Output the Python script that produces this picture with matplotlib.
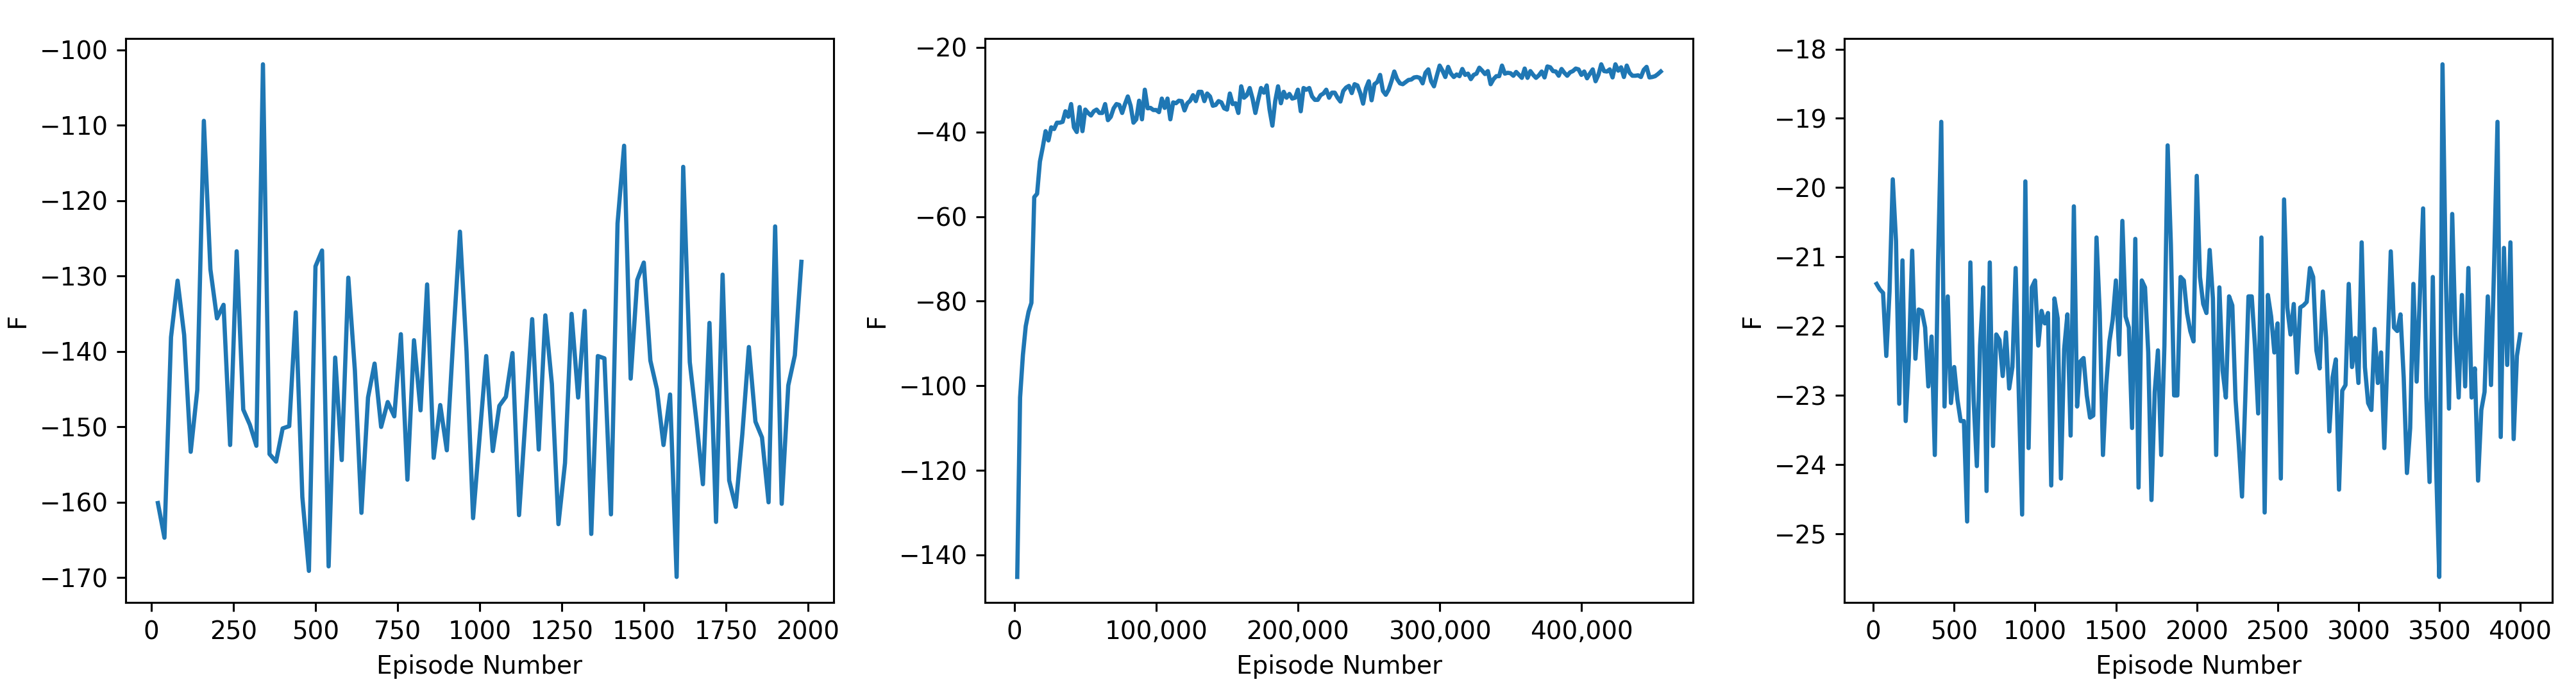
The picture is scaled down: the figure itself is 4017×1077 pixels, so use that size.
import numpy as np
import matplotlib
matplotlib.use('Agg')
import matplotlib.pyplot as plt
from matplotlib.ticker import StrMethodFormatter

# Run 1: every 20 episodes up to 2000
episodes_1 = np.arange(20, 2000, 20)
f_1 = [
    -160.1, -164.7, -138.1, -130.6, -137.8, -153.3, -145.1, -109.4, -129.1, -135.6,
    -133.8, -152.4, -126.7, -147.7, -149.7, -152.5, -101.9, -153.6, -154.6, -150.2,
    -149.9, -134.8, -159.3, -169.1, -128.7, -126.6, -168.5, -140.8, -154.4, -130.2,
    -142.5, -161.4, -146.1, -141.6, -150.0, -146.7, -148.6, -137.7, -157.0, -138.5,
    -147.8, -131.1, -154.1, -147.1, -153.1, -138.0, -124.1, -140.0, -162.1, -151.3,
    -140.6, -153.2, -147.2, -146.0, -140.2, -161.7, -148.6, -135.7, -153.0, -135.2,
    -144.3, -162.9, -154.8, -135.0, -146.1, -134.6, -164.2, -140.6, -140.9, -161.6,
    -123.0, -112.7, -143.6, -130.5, -128.2, -141.2, -145.0, -152.4, -145.7, -169.9,
    -115.5, -141.4, -149.1, -157.6, -136.2, -162.6, -129.8, -157.1, -160.6, -151.0,
    -139.4, -149.3, -151.4, -160.0, -123.4, -160.2, -144.5, -140.5, -128.1,
]

# Run 2: every 2000 episodes up to 456,000
f_2 = [
    -145.2, -102.8, -92.7, -85.9, -82.5, -80.4, -55.4, -54.6, -47.0, -43.6,
    -39.8, -42.0, -38.9, -39.3, -37.8, -37.8, -37.6, -35.1, -36.4, -33.4,
    -38.9, -40.0, -34.1, -39.8, -34.7, -35.5, -36.1, -35.1, -34.7, -35.5,
    -35.5, -33.4, -37.2, -36.4, -34.4, -33.4, -33.6, -35.5, -33.4, -31.6,
    -33.8, -37.8, -37.0, -32.6, -37.0, -30.0, -34.4, -34.3, -34.8, -34.8,
    -35.3, -32.1, -34.3, -32.1, -37.0, -33.0, -33.2, -32.6, -32.7, -34.9,
    -33.2, -32.6, -31.3, -32.7, -30.5, -30.5, -32.7, -30.9, -31.6, -33.8,
    -33.6, -32.7, -33.0, -34.4, -34.7, -30.9, -33.4, -33.2, -35.5, -29.2,
    -31.9, -31.3, -29.6, -32.1, -35.5, -32.4, -29.6, -30.7, -29.0, -34.7,
    -38.5, -32.7, -29.2, -33.2, -30.5, -31.9, -31.0, -32.1, -31.9, -30.0,
    -35.1, -29.6, -30.0, -29.6, -31.6, -32.4, -32.4, -31.3, -30.9, -30.0,
    -31.9, -30.7, -30.7, -31.9,
    -32.8, -30.3, -29.5, -29.1, -30.8, -28.7, -29.0, -30.8, -33.3, -29.7,
    -28.0, -32.5, -28.7, -28.2, -26.5, -30.3, -31.2, -30.0, -28.0, -25.7,
    -27.5, -28.5, -28.7, -28.2, -27.7, -27.6, -27.1, -27.0, -27.2, -28.5,
    -26.0, -25.2, -28.0, -29.2, -26.7, -24.3, -25.5, -27.0, -24.6, -26.2,
    -27.0, -26.4, -26.8, -25.1, -26.5, -26.2, -27.5, -26.5, -26.2, -24.8,
    -25.5, -26.3, -25.6, -28.7, -27.5, -26.8, -26.8, -24.3, -26.2, -26.0,
    -26.1, -26.7, -25.8, -26.5, -27.2, -25.0, -27.2, -25.6, -26.5, -27.2,
    -26.6, -25.7, -27.1, -24.5, -24.7, -25.6, -25.7, -26.7, -25.1, -26.0,
    -26.7, -25.9, -25.6, -25.0, -25.2, -26.5, -25.7, -27.3, -26.2, -25.2,
    -28.0, -26.5, -24.0, -25.6, -25.7, -25.2, -27.1, -24.0, -25.5, -24.7,
    -27.0, -24.3, -26.0, -26.7, -26.7, -26.6, -27.0, -25.3, -24.6, -27.1,
    -27.0, -26.8, -26.3, -25.7,
]
episodes_2 = np.arange(1, len(f_2) + 1) * 2000

# Run 3: every 20 episodes up to 4000
episodes_3 = np.arange(20, 4001, 20)
f_3 = [
    -21.39, -21.47, -21.52, -22.43, -21.50, -19.88, -20.77, -23.12, -21.05,
    -23.37, -22.43, -20.91, -22.47, -21.76, -21.78, -22.02, -22.87, -22.15, -23.86,
    -21.08, -19.05, -23.16, -21.57, -23.11, -22.59, -23.06, -23.37, -23.37, -24.82,
    -21.08, -23.06, -24.02, -22.28, -21.44, -24.38, -21.08, -23.73, -22.12, -22.20,
    -22.72, -22.09, -22.90, -22.59, -21.16, -23.03, -24.72, -19.91, -23.76, -21.44,
    -21.34, -22.28, -21.78, -21.96, -21.81, -24.30, -21.60, -21.89, -24.20, -22.33,
    -21.83, -23.58, -20.27, -23.16, -22.51,
    -22.46, -23.00, -23.32, -23.29, -20.72, -21.81, -23.86, -22.85, -22.22, -21.91,
    -21.34, -22.41, -20.48, -21.86, -22.02, -23.47, -20.74, -24.33, -21.34, -21.44,
    -22.38, -24.51, -22.95, -22.35, -23.86, -22.28, -19.39, -20.82, -23.00, -23.00,
    -21.29, -21.34, -21.81, -22.07, -22.22, -19.83, -21.29, -21.68, -21.81, -20.90,
    -21.60, -23.86, -21.44, -22.64, -23.03, -21.57, -21.70, -23.06, -23.71, -24.46,
    -23.06, -21.57, -21.57, -22.28, -23.26, -20.72, -24.69, -21.55, -21.86, -22.38,
    -21.96, -24.20, -20.17, -21.73, -22.12, -21.68, -22.67, -21.73, -21.70, -21.65,
    -21.16, -21.29, -22.35, -22.61,
    -21.50, -22.17, -23.52, -22.74, -22.48, -24.36, -22.93, -22.85, -21.39, -22.59,
    -22.17, -22.82, -20.79, -22.59, -23.11, -23.21, -22.04, -22.82, -22.38, -23.76,
    -22.38, -20.92, -22.02, -22.07, -21.83, -22.74, -24.12, -23.47, -21.39, -22.80,
    -21.55, -20.30, -23.03, -24.25, -21.29, -23.99, -25.62, -18.22, -21.24, -23.19,
    -20.38, -22.12, -23.03, -21.55, -22.87, -21.16, -23.03, -22.61, -24.23, -23.21,
    -22.95, -21.57, -22.85, -21.03, -19.05, -23.60, -20.87, -22.56, -20.79, -23.63,
    -22.43, -22.12,
]

fig, axes = plt.subplots(1, 3, figsize=(4017 / 280, 1077 / 280), dpi=280)
fig.subplots_adjust(left=0.0488, right=0.9908, bottom=0.128, top=0.944, wspace=0.214)

runs = [(episodes_1, f_1), (episodes_2, f_2), (episodes_3, f_3)]
for ax, (x, y) in zip(axes, runs):
    ax.plot(x, y, linewidth=1.7)
    ax.set_xlabel('Episode Number')
    ax.set_ylabel('F')

# thousands separator on the long run
axes[1].xaxis.set_major_formatter(StrMethodFormatter('{x:,.0f}'))

fig.savefig('out.png', dpi=280)
